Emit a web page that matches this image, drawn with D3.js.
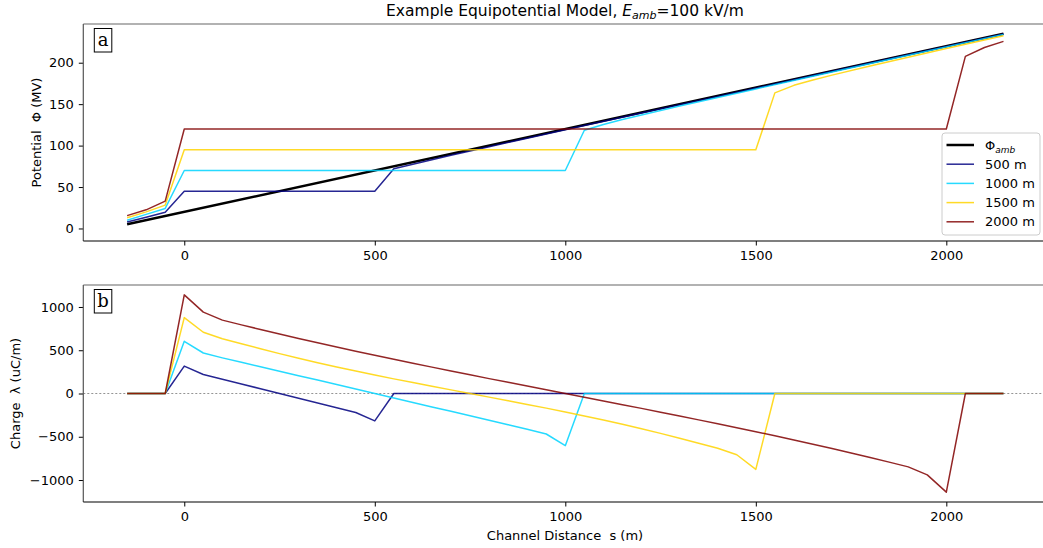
<!DOCTYPE html>
<html>
<head>
<meta charset="utf-8">
<script src="https://cdn.jsdelivr.net/npm/d3@7"></script>
<style>
  html, body { margin: 0; padding: 0; background: #fff; }
  svg { display: block; font-family: "DejaVu Sans", sans-serif; }
  svg text { white-space: pre; }
</style>
</head>
<body>
<svg id="chart" width="1043" height="548"></svg>
<script>
// Ambient potential along the channel (MV), E_amb = 100 kV/m
const ambS = [-150, 2150];
const ambPhi = [5, 235];

// Channel lengths and their colours
const lengths = [500, 1000, 1500, 2000];
const seriesNames = ["500 m", "1000 m", "1500 m", "2000 m"];
const seriesColors = ["#000080", "#00d4ff", "#ffd400", "#800000"];

// Potential along s (MV) for each channel
const phiS500 = [-150, -100, -50, 0, 500, 550, 600, 650, 700, 800, 900, 1000, 1200, 1400, 1700, 2150];
const phi500 = [7.8, 13.5, 19.5, 45, 45, 72, 77.5, 83, 88.3, 98.7, 108.9, 119.1, 139.3, 159.4, 189.6, 234.7];

const phiS1000 = [-150, -100, -50, 0, 1000, 1050, 1100, 1150, 1200, 1300, 1400, 1500, 1700, 1900, 2150];
const phi1000 = [10, 17, 24.2, 70, 70, 118.5, 125.5, 131.4, 137, 147.7, 158.1, 168.4, 188.8, 209, 234.2];

const phiS1500 = [-150, -100, -50, 0, 1500, 1550, 1600, 1650, 1700, 1800, 1900, 2000, 2150];
const phi1500 = [13, 20, 28.2, 95, 95, 163.6, 172.7, 179.2, 185, 196, 206.7, 217.1, 232.6];

const phiS2000 = [-150, -100, -50, 0, 2000, 2050, 2100, 2150];
const phi2000 = [15.5, 22.5, 33, 120, 120, 207.6, 218.4, 225.7];

// Line charge density along s (uC/m) for each channel
const lamS500 = [-150, -50, 0, 50, 100, 150, 200, 250, 300, 350, 400, 450, 500, 550, 2150];
const lam500 = [0, 0, 317, 219, 165, 110, 55, 0, -55, -110, -165, -219, -317, 0, 0];

const lamS1000 = [-150, -50, 0, 50, 100, 150, 200, 250, 300, 350, 400, 450, 500,
  550, 600, 650, 700, 750, 800, 850, 900, 950, 1000, 1050, 2150];
const lam1000 = [0, 0, 603, 468, 412, 360, 310, 258, 206, 155, 103, 51, 0,
  -51, -103, -155, -206, -258, -310, -360, -412, -468, -603, 0, 0];

const lamS1500 = [-150, -50, 0, 50, 100, 150, 200, 250, 300, 350, 400, 450, 500, 550, 600, 650, 700, 750,
  800, 850, 900, 950, 1000, 1050, 1100, 1150, 1200, 1250, 1300, 1350, 1400, 1450, 1500, 1550, 2150];
const lam1500 = [0, 0, 877, 708, 632, 575, 518, 461, 407, 356, 306, 259, 213, 169, 126, 83, 42, 0,
  -42, -83, -126, -169, -213, -259, -306, -356, -407, -461, -518, -575, -632, -708, -877, 0, 0];

const lamS2000 = [-150, -50, 0, 50, 100, 150, 200, 250, 300, 350, 400, 450, 500, 550, 600, 650, 700, 750,
  800, 850, 900, 950, 1000, 1050, 1100, 1150, 1200, 1250, 1300, 1350, 1400, 1450, 1500, 1550, 1600,
  1650, 1700, 1750, 1800, 1850, 1900, 1950, 2000, 2050, 2150];
const lam2000 = [0, 0, 1140, 940, 848, 793, 740, 687, 636, 586, 537, 489, 442, 396, 350, 305, 260, 216,
  172, 129, 86, 43, 0, -43, -86, -129, -172, -216, -260, -305, -350, -396, -442, -489, -537,
  -586, -636, -687, -740, -793, -848, -940, -1140, 0, 0];

// Axis ticks
const xTicks = [0, 500, 1000, 1500, 2000];
const phiTicks = [0, 50, 100, 150, 200];
const lamTicks = [-1000, -500, 0, 500, 1000];

const phiSeries = [
  [phiS500, phi500], [phiS1000, phi1000], [phiS1500, phi1500], [phiS2000, phi2000]
];
const lamSeries = [
  [lamS500, lam500], [lamS1000, lam1000], [lamS1500, lam1500], [lamS2000, lam2000]
];

const svg = d3.select("#chart");
const left = 83.3, right = 1047.3;
const panelA = { top: 24, bottom: 241 };
const panelB = { top: 285, bottom: 502 };

const x = d3.scaleLinear().domain([-265, 2265]).range([left, right]);
const yA = d3.scaleLinear().domain([-15.1, 246.7]).range([panelA.bottom, panelA.top]);
const yB = d3.scaleLinear().domain([-1254, 1254]).range([panelB.bottom, panelB.top]);

const zip = (s, v) => s.map((d, i) => [d, v[i]]);
const LINE_ALPHA = 0.85;

function drawPanel(p, y, yTicks, label) {
  const g = svg.append("g");
  const clipId = "clip" + label;
  svg.append("clipPath").attr("id", clipId)
    .append("rect").attr("x", left).attr("y", p.top)
    .attr("width", right - left).attr("height", p.bottom - p.top);

  // axes
  const xAxis = d3.axisBottom(x).tickValues(xTicks).tickSize(4.5).tickPadding(5)
    .tickFormat(d3.format("d"));
  const gx = g.append("g").attr("transform", `translate(0,${p.bottom})`).call(xAxis);
  gx.select(".domain").remove();
  gx.selectAll("text").attr("font-size", 13).attr("font-family", "DejaVu Sans").attr("fill", "#000");
  gx.selectAll("line").attr("stroke", "#000");

  const yAxis = d3.axisLeft(y).tickValues(yTicks).tickSize(4.5).tickPadding(5)
    .tickFormat(d3.format("d"));
  const gy = g.append("g").attr("transform", `translate(${left},0)`).call(yAxis);
  gy.select(".domain").remove();
  gy.selectAll("text").attr("font-size", 13).attr("font-family", "DejaVu Sans").attr("fill", "#000");
  gy.selectAll("line").attr("stroke", "#000");

  const plot = g.append("g").attr("clip-path", `url(#${clipId})`);

  // spines
  g.append("line").attr("x1", left).attr("x2", right).attr("y1", p.top).attr("y2", p.top)
    .attr("stroke", "#666").attr("stroke-width", 1.2);
  g.append("line").attr("x1", left).attr("x2", left).attr("y1", p.top).attr("y2", p.bottom)
    .attr("stroke", "#555").attr("stroke-width", 1.2);
  g.append("line").attr("x1", left).attr("x2", right).attr("y1", p.bottom).attr("y2", p.bottom)
    .attr("stroke", "#000").attr("stroke-width", 1.2);
  g.append("line").attr("x1", right).attr("x2", right).attr("y1", p.top).attr("y2", p.bottom)
    .attr("stroke", "#666").attr("stroke-width", 1.2);

  // panel letter
  const box = g.append("g").attr("transform", `translate(${left + 11},${p.top + 4.5})`);
  box.append("rect").attr("width", 17.5).attr("height", 23.5)
    .attr("fill", "#fff").attr("stroke", "#000").attr("stroke-width", 1);
  box.append("text").attr("x", 8.75).attr("y", 17.5).attr("text-anchor", "middle")
    .attr("font-family", "DejaVu Serif").attr("font-size", 18).text(label);

  return plot;
}

// ---- Panel a: potential ----
const plotA = drawPanel(panelA, yA, phiTicks, "a");
const lineA = d3.line().x(d => x(d[0])).y(d => yA(d[1]));
plotA.append("path").datum(zip(ambS, ambPhi)).attr("d", lineA)
  .attr("fill", "none").attr("stroke", "#000").attr("stroke-width", 2.5);
phiSeries.forEach(([s, v], i) => {
  plotA.append("path").datum(zip(s, v)).attr("d", lineA)
    .attr("fill", "none").attr("stroke", seriesColors[i]).attr("stroke-opacity", LINE_ALPHA)
    .attr("stroke-width", 1.5).attr("stroke-linejoin", "round");
});

// ---- Panel b: charge ----
const plotB = drawPanel(panelB, yB, lamTicks, "b");
plotB.append("line").attr("x1", left).attr("x2", right).attr("y1", yB(0)).attr("y2", yB(0))
  .attr("stroke", "#888").attr("stroke-width", 0.9).attr("stroke-dasharray", "2,2");
const lineB = d3.line().x(d => x(d[0])).y(d => yB(d[1]));
lamSeries.forEach(([s, v], i) => {
  plotB.append("path").datum(zip(s, v)).attr("d", lineB)
    .attr("fill", "none").attr("stroke", seriesColors[i]).attr("stroke-opacity", LINE_ALPHA)
    .attr("stroke-width", 1.5).attr("stroke-linejoin", "round");
});

// ---- Legend ----
const leg = svg.append("g").attr("transform", "translate(942,133)");
leg.append("rect").attr("width", 98).attr("height", 102).attr("rx", 3)
  .attr("fill", "#fff").attr("fill-opacity", 0.8).attr("stroke", "#ccc").attr("stroke-width", 1);
const rowY = i => 12 + i * 19.2;
leg.append("line").attr("x1", 4.5).attr("x2", 32).attr("y1", rowY(0)).attr("y2", rowY(0))
  .attr("stroke", "#000").attr("stroke-width", 2.5);
const t0 = leg.append("text").attr("x", 43).attr("y", rowY(0) + 4.5).attr("font-size", 13);
t0.append("tspan").text("Φ");
t0.append("tspan").attr("font-style", "italic").attr("font-size", 9).attr("dy", 3).text("amb");
seriesNames.forEach((n, i) => {
  const yy = rowY(i + 1);
  leg.append("line").attr("x1", 4.5).attr("x2", 32).attr("y1", yy).attr("y2", yy)
    .attr("stroke", seriesColors[i]).attr("stroke-opacity", LINE_ALPHA).attr("stroke-width", 1.5);
  leg.append("text").attr("x", 43).attr("y", yy + 4.5).attr("font-size", 13).text(n);
});

// ---- Titles and axis labels ----
const title = svg.append("text").attr("x", 565).attr("y", 16).attr("text-anchor", "middle")
  .attr("font-size", 15.5);
title.append("tspan").text("Example Equipotential Model, ");
title.append("tspan").attr("font-style", "italic").text("E");
title.append("tspan").attr("font-style", "italic").attr("font-size", 11).attr("dy", 3).text("amb");
title.append("tspan").attr("dy", -3).text("=100 kV/m");

svg.append("text").attr("transform", `translate(41,${(panelA.top + panelA.bottom) / 2}) rotate(-90)`)
  .attr("text-anchor", "middle").attr("font-size", 13).text("Potential  Φ (MV)");
svg.append("text").attr("transform", `translate(20,${(panelB.top + panelB.bottom) / 2}) rotate(-90)`)
  .attr("text-anchor", "middle").attr("font-size", 13).text("Charge  λ (uC/m)");
svg.append("text").attr("x", 565).attr("y", 540).attr("text-anchor", "middle")
  .attr("font-size", 13).text("Channel Distance  s (m)");
</script>
</body>
</html>
